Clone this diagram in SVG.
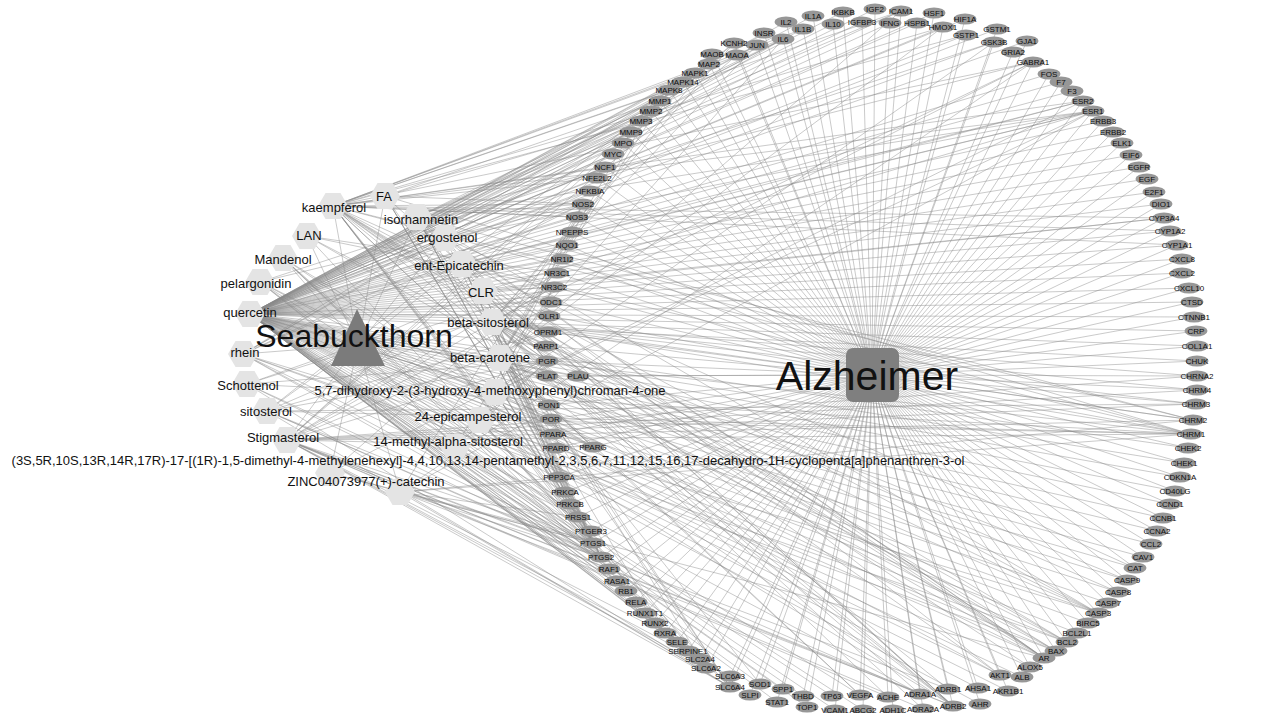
<svg xmlns="http://www.w3.org/2000/svg" xmlns:xlink="http://www.w3.org/1999/xlink" width="1272" height="713" viewBox="0 0 1272 713">
<style>
.e{fill:none;stroke:#8a8a8a;stroke-opacity:.5;stroke-width:.9}
.t ellipse{fill:#979797}
.t text{font-family:"Liberation Sans",Arial,sans-serif;font-size:8px;fill:#0d0d0d;text-anchor:middle}
.c use{fill:#e4e4e4}
.c text{font-family:"Liberation Sans",Arial,sans-serif;font-size:13px;fill:#111;text-anchor:middle}
.hub text{font-family:"Liberation Sans",Arial,sans-serif;fill:#111;text-anchor:middle}
</style>
<defs>
<polygon id="hex" points="15,0 7.5,13 -7.5,13 -15,0 -7.5,-13 7.5,-13"/>
</defs>
<rect width="1272" height="713" fill="#fff"/>
<g id="connectors">
<path class="e" d="M358 345L385 196M358 345L333 206M358 345L417 217M358 345L307 236M358 345L283 258M358 345L260 282M358 345L250 314M358 345L243 354M358 345L247 384M358 345L267 411M358 345L287 440M358 345L330 473M358 345L400 492M358 345L455 447M358 345L480 420M358 345L495 392M358 345L500 358M358 345L492 322M358 345L483 291M358 345L462 264M358 345L445 238"/>
<path class="e" d="M872 375L863 710M872 375L888 697M872 375L893 710M872 375L920 694M872 375L923 709M872 375L948 689M872 375L953 706M872 375L978 688M872 375L980 704M872 375L1008 691M872 375L1000 675M872 375L1022 677M872 375L1030 667M872 375L1044 658M872 375L1056 651M872 375L1067 642M872 375L1077 633M872 375L1088 623M872 375L1098 613M872 375L1108 603M872 375L1118 592M872 375L1127 580M872 375L1135 568M872 375L1143 557M872 375L1151 544M872 375L1157 531M872 375L1163 518M872 375L1170 504M872 375L1175 491M872 375L1180 477M872 375L1184 463M872 375L1188 448M872 375L1191 434M872 375L1193 420M872 375L1196 404M872 375L1197 390M872 375L1197 376M872 375L1197 361M872 375L1197 346M872 375L1196 331M872 375L1194 317M872 375L1192 302M872 375L1189 288M872 375L1182 273M872 375L1182 259M872 375L1177 245M872 375L1170 231M872 375L1164 218M872 375L1161 204M872 375L1154 192M872 375L1147 179M872 375L1139 167M872 375L1131 155M872 375L1122 143M872 375L1113 132M872 375L1103 121M872 375L1093 111M872 375L1083 101M872 375L1072 91M872 375L1061 82M872 375L1049 74M872 375L1033 62M872 375L1027 41M872 375L1013 52M872 375L994 42M872 375L997 29M872 375L966 35M872 375L965 19M872 375L943 27M872 375L934 13M872 375L917 23M872 375L901 11M872 375L890 23M872 375L875 9M872 375L862 22M872 375L843 12M872 375L833 24M872 375L813 16M872 375L803 29M872 375L786 22M872 375L783 39M872 375L764 33M872 375L757 45M872 375L734 43M872 375L737 55M872 375L712 54M872 375L709 64M872 375L695 73M872 375L683 82M872 375L669 90M872 375L660 101M872 375L651 111M872 375L641 121M872 375L631 132M872 375L623 143M872 375L613 154M872 375L605 167M872 375L597 178M872 375L590 191M872 375L583 204M872 375L577 217M872 375L572 232M872 375L567 245M872 375L562 259M872 375L557 273M872 375L554 287M872 375L551 302M872 375L549 316M872 375L548 332M872 375L546 346M872 375L547 361M872 375L547 376M872 375L578 376M872 375L549 405M872 375L551 419M872 375L553 434M872 375L556 448M872 375L593 447M872 375L559 477M872 375L565 492M872 375L570 504M872 375L578 517M872 375L591 531M872 375L593 543M872 375L601 557M872 375L609 569M872 375L617 581M872 375L626 591M872 375L636 602M872 375L645 613M872 375L655 623M872 375L665 633M872 375L677 642M872 375L688 651M872 375L700 659M872 375L706 668M872 375L730 676M872 375L730 687M872 375L760 684M872 375L750 695M872 375L783 689M872 375L777 702M872 375L803 696M872 375L807 707M872 375L832 696M872 375L835 710M872 375L860 695"/>
<path class="e" d="M250 314L863 710M250 314L980 704M250 314L978 688M250 314L1008 691M250 314L1000 675M250 314L1022 677M250 314L1030 667M250 314L1044 658M250 314L1056 651M250 314L1067 642M250 314L1077 633M250 314L1088 623M250 314L1098 613M250 314L1108 603M250 314L1118 592M250 314L1127 580M250 314L1135 568M250 314L1143 557M250 314L1151 544M250 314L1157 531M250 314L1163 518M250 314L1170 504M250 314L1175 491M250 314L1180 477M250 314L1184 463M250 314L1188 448M250 314L1197 361M250 314L1197 346M250 314L1196 331M250 314L1194 317M250 314L1192 302M250 314L1189 288M250 314L1182 273M250 314L1182 259M250 314L1177 245M250 314L1170 231M250 314L1164 218M250 314L1161 204M250 314L1154 192M250 314L1147 179M250 314L1139 167M250 314L1131 155M250 314L1122 143M250 314L1113 132M250 314L1103 121M250 314L1093 111M250 314L1083 101M250 314L1072 91M250 314L1061 82M250 314L1049 74M250 314L1027 41M250 314L994 42M250 314L997 29M250 314L966 35M250 314L965 19M250 314L943 27M250 314L934 13M250 314L917 23M250 314L901 11M250 314L890 23M250 314L875 9M250 314L862 22M250 314L843 12M250 314L833 24M250 314L813 16M250 314L803 29M250 314L786 22M250 314L783 39M250 314L764 33M250 314L757 45M250 314L695 73M250 314L669 90M250 314L660 101M250 314L651 111M250 314L641 121M250 314L631 132M250 314L623 143M250 314L613 154M250 314L605 167M250 314L597 178M250 314L590 191M250 314L583 204M250 314L577 217M250 314L567 245M250 314L562 259M250 314L551 302M250 314L549 316M250 314L546 346M250 314L547 376M250 314L578 376M250 314L549 405M250 314L593 447M250 314L565 492M250 314L570 504M250 314L578 517M250 314L593 543M250 314L601 557M250 314L609 569M250 314L617 581M250 314L626 591M250 314L636 602M250 314L645 613M250 314L655 623M250 314L677 642M250 314L688 651M250 314L700 659M250 314L750 695M250 314L760 684M250 314L783 689M250 314L777 702M250 314L803 696M250 314L807 707M250 314L832 696M250 314L835 710M250 314L860 695"/>
<path class="e" d="M333 206L593 543M333 206L601 557M333 206L583 204M333 206L577 217M333 206L578 517M333 206L547 361M333 206L1191 434M333 206L1193 420M333 206L953 706M333 206L706 668M333 206L1033 62M333 206L1044 658M333 206L1093 111M333 206L1083 101M333 206L665 633M333 206L593 447M333 206L1164 218M333 206L1170 231M333 206L1177 245M333 206L1000 675M333 206L1067 642M333 206L1056 651M333 206L1098 613M333 206L669 90M333 206L695 73M333 206L901 11M333 206L803 29M333 206L783 39M333 206L860 695M333 206L1030 667M333 206L943 27M333 206L1135 568M333 206L597 178M333 206L605 167M333 206L966 35"/>
<path class="e" d="M417 217L593 543M417 217L601 557M417 217L583 204M417 217L578 517M417 217L953 706M417 217L1193 420M417 217L1033 62M417 217L1093 111M417 217L1044 658M417 217L547 361M417 217L1000 675M417 217L1098 613M417 217L783 39M417 217L651 111M417 217L631 132M417 217L901 11M417 217L730 687M417 217L665 633"/>
<path class="e" d="M492 322L547 361M492 322L554 287M492 322L593 543M492 322L601 557M492 322L565 492M492 322L1056 651M492 322L1067 642M492 322L1098 613M492 322L1118 592M492 322L1127 580M492 322L757 45M492 322L549 405M492 322L709 64M492 322L1191 434M492 322L1193 420M492 322L1196 404M492 322L1197 390M492 322L1197 376M492 322L920 694M492 322L923 709M492 322L948 689M492 322L953 706M492 322L548 332M492 322L706 668M492 322L730 687M492 322L1033 62M492 322L734 43M492 322L888 697"/>
<path class="e" d="M287 440L547 361M287 440L554 287M287 440L593 543M287 440L601 557M287 440L920 694M287 440L923 709M287 440L948 689M287 440L953 706M287 440L1191 434M287 440L1193 420M287 440L1196 404M287 440L1197 390M287 440L1197 376M287 440L1033 62M287 440L734 43M287 440L548 332M287 440L706 668M287 440L730 676M287 440L730 687M287 440L737 55M287 440L712 54M287 440L665 633M287 440L593 447M287 440L888 697M287 440L557 273"/>
<path class="e" d="M267 411L547 361M267 411L554 287M267 411L593 543M267 411L601 557M267 411L1191 434M267 411L1196 404M267 411L920 694M267 411L730 687M267 411L734 43M267 411L548 332"/>
<path class="e" d="M500 358L593 543M500 358L601 557M500 358L565 492M500 358L593 447M500 358L583 204M500 358L860 695M500 358L953 706M500 358L1191 434M500 358L669 90M500 358L1098 613M500 358L1067 642M500 358L1056 651M500 358L783 39M500 358L901 11M500 358L651 111M500 358L631 132M500 358L943 27M500 358L760 684"/>
<path class="e" d="M385 196L593 543M385 196L601 557M385 196L578 517M385 196L953 706M385 196L583 204M385 196L730 687M385 196L1191 434M385 196L660 101M385 196L641 121"/>
<path class="e" d="M243 354L593 543M243 354L601 557M243 354L1098 613M243 354L1067 642M243 354L1056 651M243 354L631 132M243 354L590 191M243 354L783 39M243 354L683 82M243 354L578 517M243 354L583 204"/>
<path class="e" d="M260 282L593 543M260 282L601 557M260 282L583 204M260 282L578 517M260 282L593 447M260 282L1000 675M260 282L994 42"/>
<path class="e" d="M283 258L593 543M283 258L601 557M283 258L578 517M283 258L953 706M283 258L593 447M283 258L730 687"/>
<path class="e" d="M307 236L593 543M307 236L547 361M307 236L557 273M307 236L554 287M307 236L1044 658"/>
<path class="e" d="M247 384L593 543M247 384L601 557M247 384L547 361M247 384L554 287M247 384L1191 434M247 384L730 687"/>
<path class="e" d="M445 238L593 543M445 238L547 361M445 238L554 287M445 238L1044 658M445 238L1093 111"/>
<path class="e" d="M462 264L593 543M462 264L601 557M462 264L578 517M462 264L953 706M462 264L583 204M462 264L1044 658M462 264L1093 111M462 264L1083 101M462 264L1191 434"/>
<path class="e" d="M483 291L547 361M483 291L554 287M483 291L593 543M483 291L601 557M483 291L1093 111M483 291L1044 658M483 291L1164 218"/>
<path class="e" d="M495 392L593 543M495 392L601 557M495 392L578 517M495 392L583 204M495 392L1093 111M495 392L1083 101M495 392L1044 658M495 392L994 42M495 392L593 447"/>
<path class="e" d="M480 420L547 361M480 420L554 287M480 420L593 543M480 420L601 557M480 420L1191 434M480 420L730 687M480 420L953 706"/>
<path class="e" d="M455 447L547 361M455 447L554 287M455 447L593 543M455 447L601 557M455 447L920 694"/>
<path class="e" d="M330 473L547 361M330 473L557 273M330 473L593 543M330 473L1044 658"/>
<path class="e" d="M400 492L593 543M400 492L601 557M400 492L578 517M400 492L953 706M400 492L583 204M400 492L1093 111M400 492L1191 434M400 492L1193 420M400 492L730 687M400 492L1033 62"/>
</g>
<g id="targets">
<g id="n-ABCG2" class="t"><ellipse cx="863" cy="710" rx="11.5" ry="5.5"/><text x="863" y="713">ABCG2</text></g>
<g id="n-ACHE" class="t"><ellipse cx="888" cy="697" rx="11.5" ry="5.5"/><text x="888" y="700">ACHE</text></g>
<g id="n-ADH1C" class="t"><ellipse cx="893" cy="710" rx="11.5" ry="5.5"/><text x="893" y="713">ADH1C</text></g>
<g id="n-ADRA1A" class="t"><ellipse cx="920" cy="694" rx="11.5" ry="5.5"/><text x="920" y="697">ADRA1A</text></g>
<g id="n-ADRA2A" class="t"><ellipse cx="923" cy="709" rx="11.5" ry="5.5"/><text x="923" y="712">ADRA2A</text></g>
<g id="n-ADRB1" class="t"><ellipse cx="948" cy="689" rx="11.5" ry="5.5"/><text x="948" y="692">ADRB1</text></g>
<g id="n-ADRB2" class="t"><ellipse cx="953" cy="706" rx="11.5" ry="5.5"/><text x="953" y="709">ADRB2</text></g>
<g id="n-AHSA1" class="t"><ellipse cx="978" cy="688" rx="11.5" ry="5.5"/><text x="978" y="691">AHSA1</text></g>
<g id="n-AHR" class="t"><ellipse cx="980" cy="704" rx="11.5" ry="5.5"/><text x="980" y="707">AHR</text></g>
<g id="n-AKR1B1" class="t"><ellipse cx="1008" cy="691" rx="11.5" ry="5.5"/><text x="1008" y="694">AKR1B1</text></g>
<g id="n-AKT1" class="t"><ellipse cx="1000" cy="675" rx="11.5" ry="5.5"/><text x="1000" y="678">AKT1</text></g>
<g id="n-ALB" class="t"><ellipse cx="1022" cy="677" rx="11.5" ry="5.5"/><text x="1022" y="680">ALB</text></g>
<g id="n-ALOX5" class="t"><ellipse cx="1030" cy="667" rx="11.5" ry="5.5"/><text x="1030" y="670">ALOX5</text></g>
<g id="n-AR" class="t"><ellipse cx="1044" cy="658" rx="11.5" ry="5.5"/><text x="1044" y="661">AR</text></g>
<g id="n-BAX" class="t"><ellipse cx="1056" cy="651" rx="11.5" ry="5.5"/><text x="1056" y="654">BAX</text></g>
<g id="n-BCL2" class="t"><ellipse cx="1067" cy="642" rx="11.5" ry="5.5"/><text x="1067" y="645">BCL2</text></g>
<g id="n-BCL2L1" class="t"><ellipse cx="1077" cy="633" rx="11.5" ry="5.5"/><text x="1077" y="636">BCL2L1</text></g>
<g id="n-BIRC5" class="t"><ellipse cx="1088" cy="623" rx="11.5" ry="5.5"/><text x="1088" y="626">BIRC5</text></g>
<g id="n-CASP3" class="t"><ellipse cx="1098" cy="613" rx="11.5" ry="5.5"/><text x="1098" y="616">CASP3</text></g>
<g id="n-CASP7" class="t"><ellipse cx="1108" cy="603" rx="11.5" ry="5.5"/><text x="1108" y="606">CASP7</text></g>
<g id="n-CASP8" class="t"><ellipse cx="1118" cy="592" rx="11.5" ry="5.5"/><text x="1118" y="595">CASP8</text></g>
<g id="n-CASP9" class="t"><ellipse cx="1127" cy="580" rx="11.5" ry="5.5"/><text x="1127" y="583">CASP9</text></g>
<g id="n-CAT" class="t"><ellipse cx="1135" cy="568" rx="11.5" ry="5.5"/><text x="1135" y="571">CAT</text></g>
<g id="n-CAV1" class="t"><ellipse cx="1143" cy="557" rx="11.5" ry="5.5"/><text x="1143" y="560">CAV1</text></g>
<g id="n-CCL2" class="t"><ellipse cx="1151" cy="544" rx="11.5" ry="5.5"/><text x="1151" y="547">CCL2</text></g>
<g id="n-CCNA2" class="t"><ellipse cx="1157" cy="531" rx="11.5" ry="5.5"/><text x="1157" y="534">CCNA2</text></g>
<g id="n-CCNB1" class="t"><ellipse cx="1163" cy="518" rx="11.5" ry="5.5"/><text x="1163" y="521">CCNB1</text></g>
<g id="n-CCND1" class="t"><ellipse cx="1170" cy="504" rx="11.5" ry="5.5"/><text x="1170" y="507">CCND1</text></g>
<g id="n-CD40LG" class="t"><ellipse cx="1175" cy="491" rx="11.5" ry="5.5"/><text x="1175" y="494">CD40LG</text></g>
<g id="n-CDKN1A" class="t"><ellipse cx="1180" cy="477" rx="11.5" ry="5.5"/><text x="1180" y="480">CDKN1A</text></g>
<g id="n-CHEK1" class="t"><ellipse cx="1184" cy="463" rx="11.5" ry="5.5"/><text x="1184" y="466">CHEK1</text></g>
<g id="n-CHEK2" class="t"><ellipse cx="1188" cy="448" rx="11.5" ry="5.5"/><text x="1188" y="451">CHEK2</text></g>
<g id="n-CHRM1" class="t"><ellipse cx="1191" cy="434" rx="11.5" ry="5.5"/><text x="1191" y="437">CHRM1</text></g>
<g id="n-CHRM2" class="t"><ellipse cx="1193" cy="420" rx="11.5" ry="5.5"/><text x="1193" y="423">CHRM2</text></g>
<g id="n-CHRM3" class="t"><ellipse cx="1196" cy="404" rx="11.5" ry="5.5"/><text x="1196" y="407">CHRM3</text></g>
<g id="n-CHRM4" class="t"><ellipse cx="1197" cy="390" rx="11.5" ry="5.5"/><text x="1197" y="393">CHRM4</text></g>
<g id="n-CHRNA2" class="t"><ellipse cx="1197" cy="376" rx="11.5" ry="5.5"/><text x="1197" y="379">CHRNA2</text></g>
<g id="n-CHUK" class="t"><ellipse cx="1197" cy="361" rx="11.5" ry="5.5"/><text x="1197" y="364">CHUK</text></g>
<g id="n-COL1A1" class="t"><ellipse cx="1197" cy="346" rx="11.5" ry="5.5"/><text x="1197" y="349">COL1A1</text></g>
<g id="n-CRP" class="t"><ellipse cx="1196" cy="331" rx="11.5" ry="5.5"/><text x="1196" y="334">CRP</text></g>
<g id="n-CTNNB1" class="t"><ellipse cx="1194" cy="317" rx="11.5" ry="5.5"/><text x="1194" y="320">CTNNB1</text></g>
<g id="n-CTSD" class="t"><ellipse cx="1192" cy="302" rx="11.5" ry="5.5"/><text x="1192" y="305">CTSD</text></g>
<g id="n-CXCL10" class="t"><ellipse cx="1189" cy="288" rx="11.5" ry="5.5"/><text x="1189" y="291">CXCL10</text></g>
<g id="n-CXCL2" class="t"><ellipse cx="1182" cy="273" rx="11.5" ry="5.5"/><text x="1182" y="276">CXCL2</text></g>
<g id="n-CXCL8" class="t"><ellipse cx="1182" cy="259" rx="11.5" ry="5.5"/><text x="1182" y="262">CXCL8</text></g>
<g id="n-CYP1A1" class="t"><ellipse cx="1177" cy="245" rx="11.5" ry="5.5"/><text x="1177" y="248">CYP1A1</text></g>
<g id="n-CYP1A2" class="t"><ellipse cx="1170" cy="231" rx="11.5" ry="5.5"/><text x="1170" y="234">CYP1A2</text></g>
<g id="n-CYP3A4" class="t"><ellipse cx="1164" cy="218" rx="11.5" ry="5.5"/><text x="1164" y="221">CYP3A4</text></g>
<g id="n-DIO1" class="t"><ellipse cx="1161" cy="204" rx="11.5" ry="5.5"/><text x="1161" y="207">DIO1</text></g>
<g id="n-E2F1" class="t"><ellipse cx="1154" cy="192" rx="11.5" ry="5.5"/><text x="1154" y="195">E2F1</text></g>
<g id="n-EGF" class="t"><ellipse cx="1147" cy="179" rx="11.5" ry="5.5"/><text x="1147" y="182">EGF</text></g>
<g id="n-EGFR" class="t"><ellipse cx="1139" cy="167" rx="11.5" ry="5.5"/><text x="1139" y="170">EGFR</text></g>
<g id="n-EIF6" class="t"><ellipse cx="1131" cy="155" rx="11.5" ry="5.5"/><text x="1131" y="158">EIF6</text></g>
<g id="n-ELK1" class="t"><ellipse cx="1122" cy="143" rx="11.5" ry="5.5"/><text x="1122" y="146">ELK1</text></g>
<g id="n-ERBB2" class="t"><ellipse cx="1113" cy="132" rx="11.5" ry="5.5"/><text x="1113" y="135">ERBB2</text></g>
<g id="n-ERBB3" class="t"><ellipse cx="1103" cy="121" rx="11.5" ry="5.5"/><text x="1103" y="124">ERBB3</text></g>
<g id="n-ESR1" class="t"><ellipse cx="1093" cy="111" rx="11.5" ry="5.5"/><text x="1093" y="114">ESR1</text></g>
<g id="n-ESR2" class="t"><ellipse cx="1083" cy="101" rx="11.5" ry="5.5"/><text x="1083" y="104">ESR2</text></g>
<g id="n-F3" class="t"><ellipse cx="1072" cy="91" rx="11.5" ry="5.5"/><text x="1072" y="94">F3</text></g>
<g id="n-F7" class="t"><ellipse cx="1061" cy="82" rx="11.5" ry="5.5"/><text x="1061" y="85">F7</text></g>
<g id="n-FOS" class="t"><ellipse cx="1049" cy="74" rx="11.5" ry="5.5"/><text x="1049" y="77">FOS</text></g>
<g id="n-GABRA1" class="t"><ellipse cx="1033" cy="62" rx="11.5" ry="5.5"/><text x="1033" y="65">GABRA1</text></g>
<g id="n-GJA1" class="t"><ellipse cx="1027" cy="41" rx="11.5" ry="5.5"/><text x="1027" y="44">GJA1</text></g>
<g id="n-GRIA2" class="t"><ellipse cx="1013" cy="52" rx="11.5" ry="5.5"/><text x="1013" y="55">GRIA2</text></g>
<g id="n-GSK3B" class="t"><ellipse cx="994" cy="42" rx="11.5" ry="5.5"/><text x="994" y="45">GSK3B</text></g>
<g id="n-GSTM1" class="t"><ellipse cx="997" cy="29" rx="11.5" ry="5.5"/><text x="997" y="32">GSTM1</text></g>
<g id="n-GSTP1" class="t"><ellipse cx="966" cy="35" rx="11.5" ry="5.5"/><text x="966" y="38">GSTP1</text></g>
<g id="n-HIF1A" class="t"><ellipse cx="965" cy="19" rx="11.5" ry="5.5"/><text x="965" y="22">HIF1A</text></g>
<g id="n-HMOX1" class="t"><ellipse cx="943" cy="27" rx="11.5" ry="5.5"/><text x="943" y="30">HMOX1</text></g>
<g id="n-HSF1" class="t"><ellipse cx="934" cy="13" rx="11.5" ry="5.5"/><text x="934" y="16">HSF1</text></g>
<g id="n-HSPB1" class="t"><ellipse cx="917" cy="23" rx="11.5" ry="5.5"/><text x="917" y="26">HSPB1</text></g>
<g id="n-ICAM1" class="t"><ellipse cx="901" cy="11" rx="11.5" ry="5.5"/><text x="901" y="14">ICAM1</text></g>
<g id="n-IFNG" class="t"><ellipse cx="890" cy="23" rx="11.5" ry="5.5"/><text x="890" y="26">IFNG</text></g>
<g id="n-IGF2" class="t"><ellipse cx="875" cy="9" rx="11.5" ry="5.5"/><text x="875" y="12">IGF2</text></g>
<g id="n-IGFBP3" class="t"><ellipse cx="862" cy="22" rx="11.5" ry="5.5"/><text x="862" y="25">IGFBP3</text></g>
<g id="n-IKBKB" class="t"><ellipse cx="843" cy="12" rx="11.5" ry="5.5"/><text x="843" y="15">IKBKB</text></g>
<g id="n-IL10" class="t"><ellipse cx="833" cy="24" rx="11.5" ry="5.5"/><text x="833" y="27">IL10</text></g>
<g id="n-IL1A" class="t"><ellipse cx="813" cy="16" rx="11.5" ry="5.5"/><text x="813" y="19">IL1A</text></g>
<g id="n-IL1B" class="t"><ellipse cx="803" cy="29" rx="11.5" ry="5.5"/><text x="803" y="32">IL1B</text></g>
<g id="n-IL2" class="t"><ellipse cx="786" cy="22" rx="11.5" ry="5.5"/><text x="786" y="25">IL2</text></g>
<g id="n-IL6" class="t"><ellipse cx="783" cy="39" rx="11.5" ry="5.5"/><text x="783" y="42">IL6</text></g>
<g id="n-INSR" class="t"><ellipse cx="764" cy="33" rx="11.5" ry="5.5"/><text x="764" y="36">INSR</text></g>
<g id="n-JUN" class="t"><ellipse cx="757" cy="45" rx="11.5" ry="5.5"/><text x="757" y="48">JUN</text></g>
<g id="n-KCNH2" class="t"><ellipse cx="734" cy="43" rx="11.5" ry="5.5"/><text x="734" y="46">KCNH2</text></g>
<g id="n-MAOA" class="t"><ellipse cx="737" cy="55" rx="11.5" ry="5.5"/><text x="737" y="58">MAOA</text></g>
<g id="n-MAOB" class="t"><ellipse cx="712" cy="54" rx="11.5" ry="5.5"/><text x="712" y="57">MAOB</text></g>
<g id="n-MAP2" class="t"><ellipse cx="709" cy="64" rx="11.5" ry="5.5"/><text x="709" y="67">MAP2</text></g>
<g id="n-MAPK1" class="t"><ellipse cx="695" cy="73" rx="11.5" ry="5.5"/><text x="695" y="76">MAPK1</text></g>
<g id="n-MAPK14" class="t"><ellipse cx="683" cy="82" rx="11.5" ry="5.5"/><text x="683" y="85">MAPK14</text></g>
<g id="n-MAPK8" class="t"><ellipse cx="669" cy="90" rx="11.5" ry="5.5"/><text x="669" y="93">MAPK8</text></g>
<g id="n-MMP1" class="t"><ellipse cx="660" cy="101" rx="11.5" ry="5.5"/><text x="660" y="104">MMP1</text></g>
<g id="n-MMP2" class="t"><ellipse cx="651" cy="111" rx="11.5" ry="5.5"/><text x="651" y="114">MMP2</text></g>
<g id="n-MMP3" class="t"><ellipse cx="641" cy="121" rx="11.5" ry="5.5"/><text x="641" y="124">MMP3</text></g>
<g id="n-MMP9" class="t"><ellipse cx="631" cy="132" rx="11.5" ry="5.5"/><text x="631" y="135">MMP9</text></g>
<g id="n-MPO" class="t"><ellipse cx="623" cy="143" rx="11.5" ry="5.5"/><text x="623" y="146">MPO</text></g>
<g id="n-MYC" class="t"><ellipse cx="613" cy="154" rx="11.5" ry="5.5"/><text x="613" y="157">MYC</text></g>
<g id="n-NCF1" class="t"><ellipse cx="605" cy="167" rx="11.5" ry="5.5"/><text x="605" y="170">NCF1</text></g>
<g id="n-NFE2L2" class="t"><ellipse cx="597" cy="178" rx="11.5" ry="5.5"/><text x="597" y="181">NFE2L2</text></g>
<g id="n-NFKBIA" class="t"><ellipse cx="590" cy="191" rx="11.5" ry="5.5"/><text x="590" y="194">NFKBIA</text></g>
<g id="n-NOS2" class="t"><ellipse cx="583" cy="204" rx="11.5" ry="5.5"/><text x="583" y="207">NOS2</text></g>
<g id="n-NOS3" class="t"><ellipse cx="577" cy="217" rx="11.5" ry="5.5"/><text x="577" y="220">NOS3</text></g>
<g id="n-NPEPPS" class="t"><ellipse cx="572" cy="232" rx="11.5" ry="5.5"/><text x="572" y="235">NPEPPS</text></g>
<g id="n-NQO1" class="t"><ellipse cx="567" cy="245" rx="11.5" ry="5.5"/><text x="567" y="248">NQO1</text></g>
<g id="n-NR1I2" class="t"><ellipse cx="562" cy="259" rx="11.5" ry="5.5"/><text x="562" y="262">NR1I2</text></g>
<g id="n-NR3C1" class="t"><ellipse cx="557" cy="273" rx="11.5" ry="5.5"/><text x="557" y="276">NR3C1</text></g>
<g id="n-NR3C2" class="t"><ellipse cx="554" cy="287" rx="11.5" ry="5.5"/><text x="554" y="290">NR3C2</text></g>
<g id="n-ODC1" class="t"><ellipse cx="551" cy="302" rx="11.5" ry="5.5"/><text x="551" y="305">ODC1</text></g>
<g id="n-OLR1" class="t"><ellipse cx="549" cy="316" rx="11.5" ry="5.5"/><text x="549" y="319">OLR1</text></g>
<g id="n-OPRM1" class="t"><ellipse cx="548" cy="332" rx="11.5" ry="5.5"/><text x="548" y="335">OPRM1</text></g>
<g id="n-PARP1" class="t"><ellipse cx="546" cy="346" rx="11.5" ry="5.5"/><text x="546" y="349">PARP1</text></g>
<g id="n-PGR" class="t"><ellipse cx="547" cy="361" rx="11.5" ry="5.5"/><text x="547" y="364">PGR</text></g>
<g id="n-PLAT" class="t"><ellipse cx="547" cy="376" rx="11.5" ry="5.5"/><text x="547" y="379">PLAT</text></g>
<g id="n-PLAU" class="t"><ellipse cx="578" cy="376" rx="11.5" ry="5.5"/><text x="578" y="379">PLAU</text></g>
<g id="n-PON1" class="t"><ellipse cx="549" cy="405" rx="11.5" ry="5.5"/><text x="549" y="408">PON1</text></g>
<g id="n-POR" class="t"><ellipse cx="551" cy="419" rx="11.5" ry="5.5"/><text x="551" y="422">POR</text></g>
<g id="n-PPARA" class="t"><ellipse cx="553" cy="434" rx="11.5" ry="5.5"/><text x="553" y="437">PPARA</text></g>
<g id="n-PPARD" class="t"><ellipse cx="556" cy="448" rx="11.5" ry="5.5"/><text x="556" y="451">PPARD</text></g>
<g id="n-PPARG" class="t"><ellipse cx="593" cy="447" rx="11.5" ry="5.5"/><text x="593" y="450">PPARG</text></g>
<g id="n-PPP3CA" class="t"><ellipse cx="559" cy="477" rx="11.5" ry="5.5"/><text x="559" y="480">PPP3CA</text></g>
<g id="n-PRKCA" class="t"><ellipse cx="565" cy="492" rx="11.5" ry="5.5"/><text x="565" y="495">PRKCA</text></g>
<g id="n-PRKCB" class="t"><ellipse cx="570" cy="504" rx="11.5" ry="5.5"/><text x="570" y="507">PRKCB</text></g>
<g id="n-PRSS1" class="t"><ellipse cx="578" cy="517" rx="11.5" ry="5.5"/><text x="578" y="520">PRSS1</text></g>
<g id="n-PTGER3" class="t"><ellipse cx="591" cy="531" rx="11.5" ry="5.5"/><text x="591" y="534">PTGER3</text></g>
<g id="n-PTGS1" class="t"><ellipse cx="593" cy="543" rx="11.5" ry="5.5"/><text x="593" y="546">PTGS1</text></g>
<g id="n-PTGS2" class="t"><ellipse cx="601" cy="557" rx="11.5" ry="5.5"/><text x="601" y="560">PTGS2</text></g>
<g id="n-RAF1" class="t"><ellipse cx="609" cy="569" rx="11.5" ry="5.5"/><text x="609" y="572">RAF1</text></g>
<g id="n-RASA1" class="t"><ellipse cx="617" cy="581" rx="11.5" ry="5.5"/><text x="617" y="584">RASA1</text></g>
<g id="n-RB1" class="t"><ellipse cx="626" cy="591" rx="11.5" ry="5.5"/><text x="626" y="594">RB1</text></g>
<g id="n-RELA" class="t"><ellipse cx="636" cy="602" rx="11.5" ry="5.5"/><text x="636" y="605">RELA</text></g>
<g id="n-RUNX1T1" class="t"><ellipse cx="645" cy="613" rx="11.5" ry="5.5"/><text x="645" y="616">RUNX1T1</text></g>
<g id="n-RUNX2" class="t"><ellipse cx="655" cy="623" rx="11.5" ry="5.5"/><text x="655" y="626">RUNX2</text></g>
<g id="n-RXRA" class="t"><ellipse cx="665" cy="633" rx="11.5" ry="5.5"/><text x="665" y="636">RXRA</text></g>
<g id="n-SELE" class="t"><ellipse cx="677" cy="642" rx="11.5" ry="5.5"/><text x="677" y="645">SELE</text></g>
<g id="n-SERPINE1" class="t"><ellipse cx="688" cy="651" rx="11.5" ry="5.5"/><text x="688" y="654">SERPINE1</text></g>
<g id="n-SLC2A4" class="t"><ellipse cx="700" cy="659" rx="11.5" ry="5.5"/><text x="700" y="662">SLC2A4</text></g>
<g id="n-SLC6A2" class="t"><ellipse cx="706" cy="668" rx="11.5" ry="5.5"/><text x="706" y="671">SLC6A2</text></g>
<g id="n-SLC6A3" class="t"><ellipse cx="730" cy="676" rx="11.5" ry="5.5"/><text x="730" y="679">SLC6A3</text></g>
<g id="n-SLC6A4" class="t"><ellipse cx="730" cy="687" rx="11.5" ry="5.5"/><text x="730" y="690">SLC6A4</text></g>
<g id="n-SOD1" class="t"><ellipse cx="760" cy="684" rx="11.5" ry="5.5"/><text x="760" y="687">SOD1</text></g>
<g id="n-SLPI" class="t"><ellipse cx="750" cy="695" rx="11.5" ry="5.5"/><text x="750" y="698">SLPI</text></g>
<g id="n-SPP1" class="t"><ellipse cx="783" cy="689" rx="11.5" ry="5.5"/><text x="783" y="692">SPP1</text></g>
<g id="n-STAT1" class="t"><ellipse cx="777" cy="702" rx="11.5" ry="5.5"/><text x="777" y="705">STAT1</text></g>
<g id="n-THBD" class="t"><ellipse cx="803" cy="696" rx="11.5" ry="5.5"/><text x="803" y="699">THBD</text></g>
<g id="n-TOP1" class="t"><ellipse cx="807" cy="707" rx="11.5" ry="5.5"/><text x="807" y="710">TOP1</text></g>
<g id="n-TP63" class="t"><ellipse cx="832" cy="696" rx="11.5" ry="5.5"/><text x="832" y="699">TP63</text></g>
<g id="n-VCAM1" class="t"><ellipse cx="835" cy="710" rx="11.5" ry="5.5"/><text x="835" y="713">VCAM1</text></g>
<g id="n-VEGFA" class="t"><ellipse cx="860" cy="695" rx="11.5" ry="5.5"/><text x="860" y="698">VEGFA</text></g>
</g>
<g id="compounds">
<g id="c-FA" class="c"><use xlink:href="#hex" x="385" y="196"/><text x="384" y="201">FA</text></g>
<g id="c-kaempferol" class="c"><use xlink:href="#hex" x="333" y="206"/><text x="334" y="212">kaempferol</text></g>
<g id="c-isorhamnetin" class="c"><use xlink:href="#hex" x="417" y="217"/><text x="421" y="224">isorhamnetin</text></g>
<g id="c-LAN" class="c"><use xlink:href="#hex" x="307" y="236"/><text x="309" y="240">LAN</text></g>
<g id="c-Mandenol" class="c"><use xlink:href="#hex" x="283" y="258"/><text x="283" y="264">Mandenol</text></g>
<g id="c-pelargonidin" class="c"><use xlink:href="#hex" x="260" y="282"/><text x="256" y="288">pelargonidin</text></g>
<g id="c-quercetin" class="c"><use xlink:href="#hex" x="250" y="314"/><text x="250" y="317">quercetin</text></g>
<g id="c-rhein" class="c"><use xlink:href="#hex" x="243" y="354"/><text x="245" y="357">rhein</text></g>
<g id="c-Schottenol" class="c"><use xlink:href="#hex" x="247" y="384"/><text x="248" y="390">Schottenol</text></g>
<g id="c-sitosterol" class="c"><use xlink:href="#hex" x="267" y="411"/><text x="266" y="416">sitosterol</text></g>
<g id="c-Stigmasterol" class="c"><use xlink:href="#hex" x="287" y="440"/><text x="283" y="442">Stigmasterol</text></g>
<g id="c-ergostenol" class="c"><use xlink:href="#hex" x="445" y="238"/><text x="447" y="242">ergostenol</text></g>
<g id="c-ent-Epicatechin" class="c"><use xlink:href="#hex" x="462" y="264"/><text x="459" y="270">ent-Epicatechin</text></g>
<g id="c-CLR" class="c"><use xlink:href="#hex" x="483" y="291"/><text x="481" y="297">CLR</text></g>
<g id="c-beta-sitosterol" class="c"><use xlink:href="#hex" x="492" y="322"/><text x="488" y="327">beta-sitosterol</text></g>
<g id="c-beta-carotene" class="c"><use xlink:href="#hex" x="500" y="358"/><text x="490" y="362">beta-carotene</text></g>
<g id="c-14-methyl-alpha-sitosterol" class="c"><use xlink:href="#hex" x="455" y="447"/><text x="448" y="446">14-methyl-alpha-sitosterol</text></g>
<g id="c-24-epicampesterol" class="c"><use xlink:href="#hex" x="480" y="420"/><text x="468" y="421">24-epicampesterol</text></g>
<g id="c-dihydroxy-chromanone" class="c"><use xlink:href="#hex" x="495" y="392"/><text x="490" y="395">5,7-dihydroxy-2-(3-hydroxy-4-methoxyphenyl)chroman-4-one</text></g>
<g id="c-3S-cyclopentaphenanthrenol" class="c"><use xlink:href="#hex" x="330" y="473"/><text x="488" y="465">(3S,5R,10S,13R,14R,17R)-17-[(1R)-1,5-dimethyl-4-methylenehexyl]-4,4,10,13,14-pentamethyl-2,3,5,6,7,11,12,15,16,17-decahydro-1H-cyclopenta[a]phenanthren-3-ol</text></g>
<g id="c-ZINC04073977" class="c"><use xlink:href="#hex" x="400" y="492"/><text x="366" y="486">ZINC04073977(+)-catechin</text></g>
</g>
<g id="n-Seabuckthorn" class="hub">
<polygon points="357,309 331,366 385,366" fill="#7b7b7b"/>
<text x="354" y="347" font-size="32">Seabuckthorn</text>
</g>
<g id="n-Alzheimer" class="hub">
<rect x="846" y="348" width="53" height="54" rx="7" fill="#7f7f7f"/>
<text x="867" y="390" font-size="41">Alzheimer</text>
</g>
</svg>
